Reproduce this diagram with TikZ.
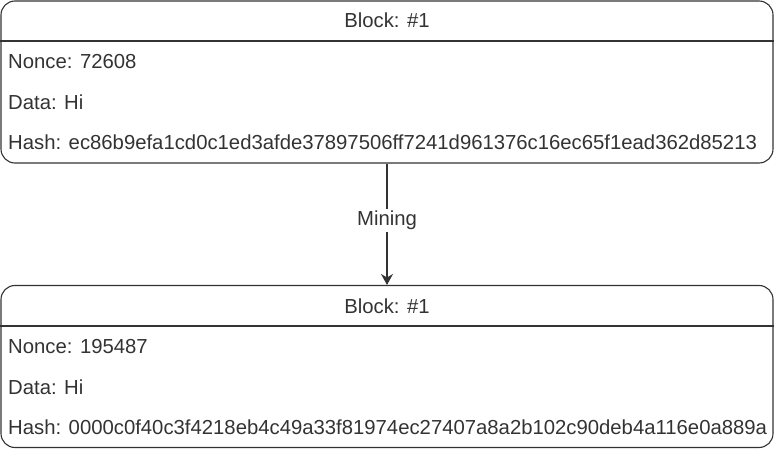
\documentclass[tikz,border=0pt]{standalone}
\usepackage{fontspec}
\setmainfont{Liberation Sans}
\usetikzlibrary{arrows.meta}
\definecolor{ink}{HTML}{333333}
\tikzstyle{blk}=[shape=rectangle, draw=ink, rounded corners=14pt,
                  minimum width=772pt, minimum height=162pt, line width=1.1pt]
\tikzstyle{hdr}=[text=ink, anchor=base, inner sep=0pt]
\tikzstyle{fld}=[text=ink, anchor=base west, inner sep=0pt]
\tikzstyle{sep}=[draw=ink, line width=1.1pt]

\begin{document}
\begin{tikzpicture}[>={Stealth[length=11pt, width=12pt]}, x=1pt, y=-1pt,
                    font=\fontsize{20.3}{24}\selectfont]
\useasboundingbox (0,0) rectangle (774,449);

% nodes
\node[blk] (b1) at (387,82) {};
\node[blk] (b2) at (387,366.5) {};
\coordinate (s1) at (387,41);
\coordinate (s2) at (387,326);
\node[hdr] (h1) at (387,28) {Block: \#1};
\node[hdr] (h2) at (387,313) {Block: \#1};
\node[fld] (n1) at (8,69) {Nonce: 72608};
\node[fld] (d1) at (8,110) {Data: Hi};
\node[fld] (x1) at (8,150) {Hash: ec86b9efa1cd0c1ed3afde37897506ff7241d961376c16ec65f1ead362d85213};
\node[fld] (n2) at (8,353) {Nonce: 195487};
\node[fld] (d2) at (8,394) {Data: Hi};
\node[fld] (x2) at (8,434) {Hash: 0000c0f40c3f4218eb4c49a33f81974ec27407a8a2b102c90deb4a116e0a889a};

% paths
\draw[sep] (b1.west |- s1) -- (b1.east |- s1);
\draw[sep] (b2.west |- s2) -- (b2.east |- s2);
\draw[->, draw=ink, line width=1.1pt] (b1.south) -- (b2.north)
  node[pos=0.47, fill=white, text=ink, inner sep=2pt] {Mining};

\end{tikzpicture}
\end{document}
